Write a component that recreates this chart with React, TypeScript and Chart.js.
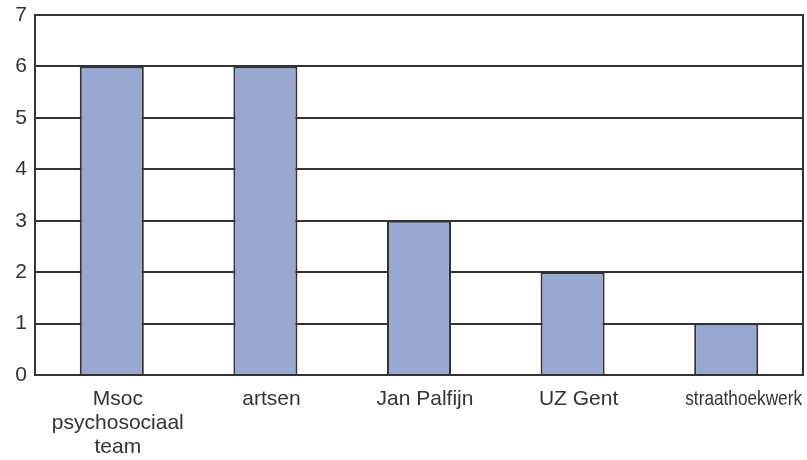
import React, { useEffect, useRef } from "react";
import { Chart, registerables } from "chart.js";

Chart.register(...registerables);

const categories: (string | string[])[] = [
  ["Msoc", "psychosociaal", "team"],
  "artsen",
  "Jan Palfijn",
  "UZ Gent",
  "straathoekwerk",
];
const values: number[] = [6, 6, 3, 2, 1];
const yMin = 0;
const yMax = 7;
const yStep = 1;

const FONT = "Liberation Sans, Arial, sans-serif";
const TEXT = "#333333";

const frame = {
  id: "frame",
  afterDraw(chart: any) {
    const { ctx, chartArea } = chart;
    ctx.save();
    ctx.strokeStyle = TEXT;
    ctx.lineWidth = 2;
    ctx.strokeRect(chartArea.left, chartArea.top, chartArea.right - chartArea.left, chartArea.bottom - chartArea.top);

    // x-axis category labels (compressed at the canvas edge, like the original)
    const xs = chart.scales.x;
    ctx.font = `21px ${FONT}`;
    ctx.fillStyle = TEXT;
    ctx.textAlign = "center";
    ctx.textBaseline = "middle";
    const catW = (chartArea.right - chartArea.left) / categories.length;
    const rightLimit = chart.width - 5;
    categories.forEach((lab, i) => {
      const lines = Array.isArray(lab) ? lab : [lab];
      const cx = xs.getPixelForTick(i) + 6;
      lines.forEach((line, j) => {
        const measured = ctx.measureText(line).width;
        const overflow = cx + measured / 2 > rightLimit;
        const w = overflow ? Math.min(measured, catW * 0.76) : measured;
        const x = overflow ? rightLimit - w / 2 : cx;
        const y = chartArea.bottom + 24 + j * 24;
        ctx.fillText(line, x, y, w);
      });
    });
    ctx.restore();
  },
};

export default function App() {
  const ref = useRef<HTMLCanvasElement | null>(null);
  useEffect(() => {
    if (!ref.current) return;
    const chart = new Chart(ref.current, {
      type: "bar",
      data: {
        labels: categories,
        datasets: [
          {
            data: values,
            backgroundColor: "#99a8d1",
            borderColor: TEXT,
            borderWidth: 2,
            categoryPercentage: 1,
            barPercentage: 0.417,
          },
        ],
      },
      options: {
        animation: false,
        responsive: false,
        layout: { padding: { top: 15, right: 4, left: 0, bottom: 0 } },
        plugins: { legend: { display: false }, tooltip: { enabled: false } },
        scales: {
          x: {
            grid: { display: false, drawTicks: false },
            border: { display: false },
            ticks: { display: false },
            afterFit: (s: any) => {
              s.height = 85;
              s.paddingLeft = 0;
              s.paddingRight = 0;
            },
          },
          y: {
            min: yMin,
            max: yMax,
            ticks: {
              stepSize: yStep,
              color: TEXT,
              font: { family: FONT, size: 21 },
              padding: 8,
            },
            grid: { color: TEXT, lineWidth: 2, drawTicks: false },
            border: { display: false },
            afterFit: (s: any) => {
              s.width = 35;
              s.paddingTop = 0;
              s.paddingBottom = 0;
            },
          },
        },
      },
      plugins: [frame],
    });
    return () => chart.destroy();
  }, []);
  return (
    <div style={{ position: "fixed", left: 0, top: 0, width: 807, height: 460, background: "#fff" }}>
      <canvas ref={ref} width={807} height={460} />
    </div>
  );
}
